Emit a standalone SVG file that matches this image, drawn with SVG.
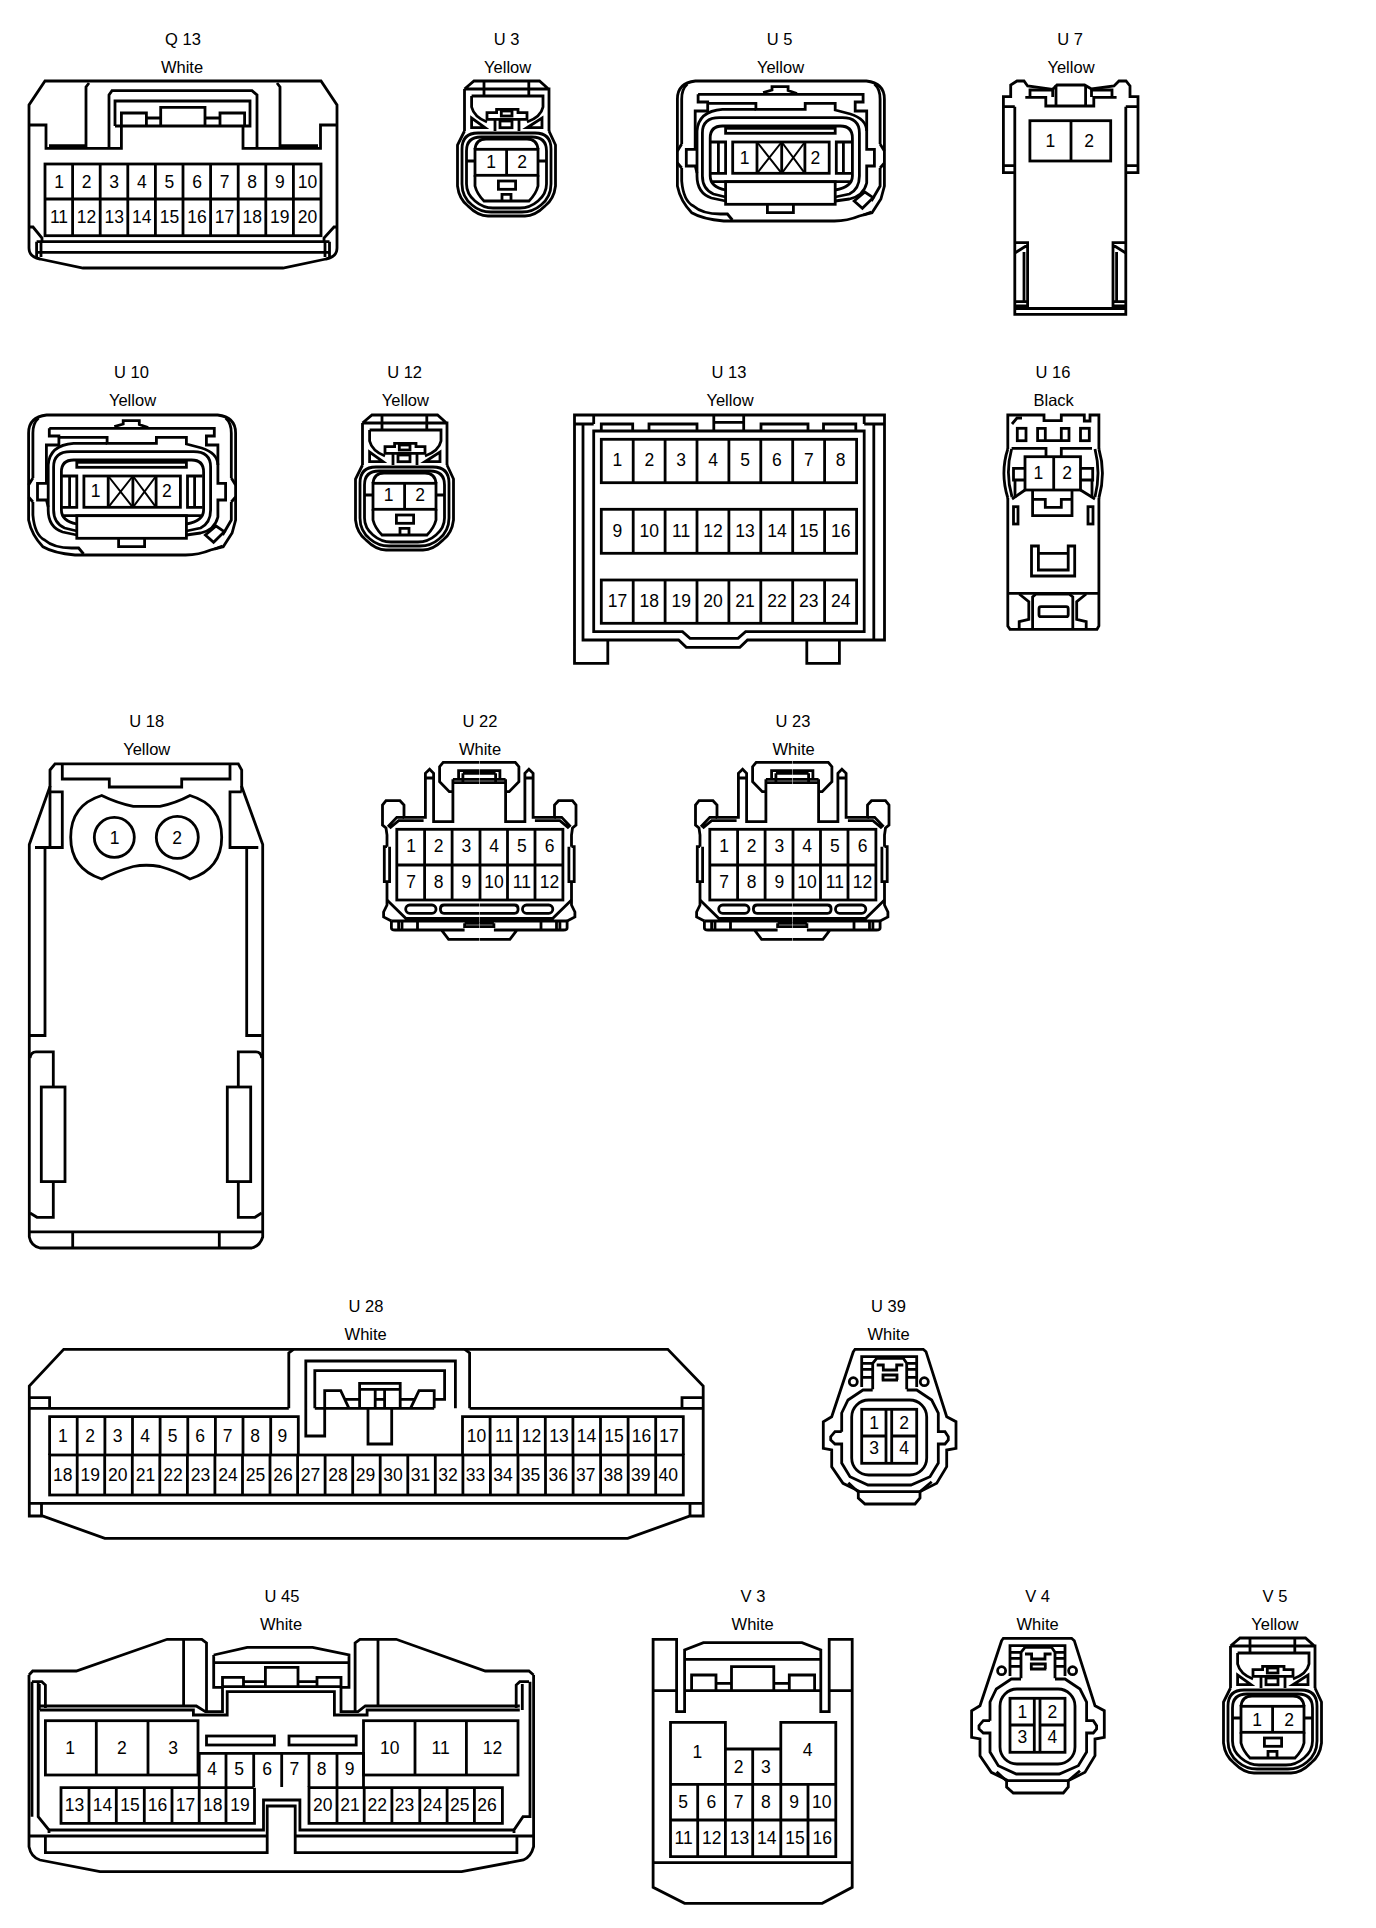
<svg xmlns="http://www.w3.org/2000/svg" xmlns:xlink="http://www.w3.org/1999/xlink" width="1376" height="1928" viewBox="0 0 1376 1928">
<style>
path,rect,circle{fill:none;stroke:#000;stroke-width:2.8;stroke-linejoin:miter}
.n{stroke-width:2}
text{font-family:"Liberation Sans",Arial,sans-serif;fill:#000;text-anchor:middle}
.t{font-size:16.5px}
.p{font-size:17.5px}
</style>
<defs>
<g id="plug2">
<path d="M8.5,8 L18,0 H83.5 L92.5,8 M8.5,8 H93 V50 M8.5,8 V50 M28,0 V15 M72.8,0 V15"/>
<path d="M15.6,15 H87 V26 Q85,36 71,41 M15.6,15 V26 Q18,36 31,41"/>
<path d="M15.6,37 V46.7 H29 Z M86,37 V46.7 H71 Z"/>
<path d="M31,38.3 V31.7 H40.6 V28.3 H62 V31.7 H71 V38.3 Z M39,38.3 V50 M63,38.3 V50"/>
<rect x="45.3" y="30" width="10.7" height="5"/><rect x="44" y="40" width="12" height="6.7"/>
<path d="M8.5,50 L1.5,64 V105 Q3,118 12,125 Q22,135 32,135 H69 Q79,135 89,125 Q98,118 99.5,105 V64 L93,50"/>
<path d="M6,68 Q6,52 22,52 H79 Q95,52 95,68 V103 Q95,116 85,124 Q77,131 66,131 H35 Q24,131 16,124 Q6,116 6,103 Z"/>
<path d="M10.5,70 Q10.5,56 25,56 H76 Q90.5,56 90.5,70 V103 Q90.5,113 82,120 Q74,127 64,127 H37 Q27,127 19,120 Q10.5,113 10.5,103 Z"/>
<path d="M19,68.3 Q20,58 30,58 H71 Q81,58 82,68.3 M19,94.3 V105 Q21,113 28,120 H73 Q80,113 82,105 V94.3"/>
<rect x="19" y="68.3" width="63" height="26"/><path d="M50.6,68.3 V94.3 M11,80 H19 M82,80 H90"/>
<rect x="42.4" y="100" width="17.2" height="8.3"/><path d="M46,120 V113.3 H55 V120"/>
</g>
<g id="plugX">
<path d="M18,0 H189 Q207,2 207,18 V105 L203.5,118 L194.6,131.7 L182,135 Q170,140 157,140 H46.4 Q25,138 14.3,131.7 Q3,120 0,105 V18 Q0,2 18,0 Z"/>
<path d="M10,3 Q4.3,8 4.3,18 V63 M0,70 L4.3,63 M0,82 L4.3,87 M4.3,87 V100 Q6,120 16,125 Q25,133 43,133 H50 L55,139"/>
<path d="M197,3 Q202.7,8 202.7,18 V63 M207,70 L202.7,63 M207,82 L202.7,87 M202.7,87 V105 L194,120 M186,134 L194,131"/>
<path d="M20.7,13.3 H185.7 V21 H177.8 V30 H189.3 V68.3 H197 V85 H189.3 V102 Q186,115 172,118 L157.8,120 M20.7,13.3 V21 H30.3 V30 H17.8 V68.3 H8.9 V85 H17.8 L19.6,92"/>
<path d="M85.7,11.7 L94.6,9 V5.7 H110.7 V9.5 L119.6,12.5"/>
<path d="M30.3,22.3 H78.5 V28.3 H127.8 V22.3 H157.8 V29 L173,33 Q189,38 189.3,50"/>
<path d="M78.5,28.3 H45 Q21,30 19.6,50 V95 Q19.6,112 34,117 L48.2,120"/>
<path d="M48.2,116 L36,113 Q25,108 25,95 V52 Q25,36.7 42,36.7 H165 Q182,36.7 182,52 V95 Q182,108 172,113 L157.8,116"/>
<path d="M48.2,109 Q32.8,106 32.8,95 V57 Q32.8,45 45,45 H163 Q175,45 175,57 V95 Q175,106 157.8,109 M33,100.7 H174"/>
<rect x="48.2" y="47.3" width="109.6" height="5"/>
<path d="M33.5,61 H48.2 V92.3 H33.5 M41,61 V92.3 M173.9,61 H158.9 V92.3 H173.9 M166,61 V92.3"/>
<rect x="55.3" y="61" width="96.5" height="31.3"/>
<path d="M79.6,61 V92.3 M104.3,61 V92.3 M127.5,61 V92.3"/>
<path class="n" d="M79.6,61 L104.3,92.3 M104.3,61 L79.6,92.3 M104.3,61 L127.5,92.3 M127.5,61 L104.3,92.3"/>
<rect x="48.2" y="100.7" width="109.6" height="22.6"/>
<path d="M90,123.3 V131.7 H116 V123.3"/>
<path d="M176.8,120 L187.5,111 L195.7,116.7 L185,127.3 Z"/>
</g>
<g id="half12">
<path d="M479,762.3 H443.2 L439.6,766.7 V781.7 L449.3,791.7 H452.9"/>
<path d="M452.9,779.3 V821.7 H433.6 V773.3 L429.6,769.3 L425.4,773.3 V817.3 H404 V805 L400,800.7 H386 L382.5,805 V825 L386,828 L387,835 V846.7"/>
<path d="M404,817.3 H396.8 L387.9,826.7 M423.6,820.7 H398.6 L389.6,828.3 M425.4,778 H433.6"/>
<path d="M387,846.7 H384.3 V881.7 H387 M389.6,846.7 V881.7 H387 V905 L383.6,912 V917 L391.4,921"/>
<path d="M387,900 L405.7,918.3 H479 M391.4,921 H479 M391.4,921 V928 Q391.4,930 395,930 H441.4 L448.6,939.3 H479 M441.4,930 H464.6 M398.6,921 V930 M402,921 V930 M417.5,921 V930"/>
<path d="M464.6,923.3 H479 M464.6,923.3 V926.7 H479"/>
<rect x="405.7" y="905" width="30.3" height="8.3" rx="4"/>
<path d="M479,905 H444 Q440.4,905 440.4,909 Q440.4,913.3 444,913.3 H479"/>
<path d="M452.9,779.3 H479 M452.9,782.7 H479 M458.6,779.3 V770.7 H479 M462.9,773.3 H479 M462.9,773.3 V781.7"/>
</g>
<g id="plug12">
<use href="#half12"/>
<use href="#half12" transform="matrix(-1 0 0 1 958.5 0)"/>
<rect x="396.8" y="829.3" width="166.1" height="70.7"/>
<path d="M396.8,865 H562.9 M424.6,829.3 V900 M452.1,829.3 V900 M480,829.3 V900 M507.5,829.3 V900 M535,829.3 V900"/>
</g>
<g id="plug4">
<path d="M853.3,1351.7 L855,1349.3 H923.3 L926,1351.7 L946.7,1416.7 L956,1421.7 V1448.3 L946.7,1450 V1466.7 L936.7,1483.3 L920,1491.7 H860 L843,1483.3 L831.7,1466.7 V1450 L823.3,1448.3 V1421.7 L831.7,1416.7 Z"/>
<path d="M841.7,1431.7 H835 L830.7,1436.7 V1440 L835,1444 H841.7 V1463 L850,1476.7 L868,1485 H911 L930,1476.7 L938.3,1463 V1444 H945 L948.3,1440 V1436.7 L945,1431.7 H938.3 V1413 L931.7,1400 L916.7,1390 H906.7 M841.7,1431.7 V1413 L848,1400 L863,1390 H872.7"/>
<path d="M848.3,1482.7 L858.3,1492 V1498 L865,1504 H915 L920,1498 V1491.7 L931.7,1481.7"/>
<rect x="851.7" y="1400" width="75" height="75" rx="17"/>
<rect x="861.7" y="1409.3" width="55" height="54"/>
<path d="M861.7,1436 H886 M891.7,1436 H916.7 M886,1409.3 V1463.3 M891.7,1409.3 V1463.3"/>
<path d="M861.7,1387 V1356.7 H916.7 V1387 M861.7,1363.3 H872 M906.7,1363.3 H916.7 M861.7,1369.3 H872.7 M906.7,1369.3 H916.7 M861.7,1377.3 H872.7 M906.7,1377.3 H916.7"/>
<path d="M872.7,1389.3 V1363.3 L876.7,1358.3 H903.3 L906.7,1363.3 V1389.3"/>
<path d="M876.7,1365 H883.3 V1370 H896.7 V1365 H903.3 M881.7,1380 H898 M883,1380 V1375 H897 V1380"/>
<circle cx="853.3" cy="1381.7" r="4"/><circle cx="924.3" cy="1381.7" r="4"/>
</g>
</defs>

<g id="Q13">
<path d="M45,81 H321 L337,105 V248 Q337,257 326,259 L283,268 H83 L40,259 Q29,257 29,248 V105 Z"/>
<path d="M29,125 H46 V148.3 H121.4 V126 M337,125 H320.5 V148.3 H243 V126 M109,148.3 V95 L112,90.7 H252 L257,95 V148.3"/>
<path d="M86,148.3 V87 L89,83 M280,148.3 V87 L277,83 M49,145.7 H86 M280,145.7 H318"/>
<path d="M115,126 V101 H250 V126 H115 M121.4,126 V113 H146.4 V126 M160.7,126 V107.3 H205 V126 M220,126 V113 H244.6 V126 M146.4,118 H160.7 M205,118 H220"/>
<rect x="45" y="164" width="276" height="71.7"/>
<path d="M45,199 H321 M72.6,164 V235.7 M100.2,164 V235.7 M127.8,164 V235.7 M155.4,164 V235.7 M183,164 V235.7 M210.6,164 V235.7 M238.2,164 V235.7 M265.8,164 V235.7 M293.4,164 V235.7"/>
<path d="M36.6,241.7 H329.5 M36.6,252.3 H329.5 M36.6,241.7 V257 M41,241.7 V257 M325,241.7 V257 M329.5,241.7 V257"/>
<path d="M29,227 H33 L42,238 V241.7 M337,227 H334 L324,238 V241.7"/>
<text class="t" x="183" y="45">Q 13</text><text class="t" x="182" y="72.5">White</text>
<g class="p"><text x="59" y="188.3">1</text><text x="86.6" y="188.3">2</text><text x="114.2" y="188.3">3</text><text x="141.8" y="188.3">4</text><text x="169.4" y="188.3">5</text><text x="197" y="188.3">6</text><text x="224.6" y="188.3">7</text><text x="252.2" y="188.3">8</text><text x="279.8" y="188.3">9</text><text x="307.4" y="188.3">10</text>
<text x="59" y="222.7">11</text><text x="86.6" y="222.7">12</text><text x="114.2" y="222.7">13</text><text x="141.8" y="222.7">14</text><text x="169.4" y="222.7">15</text><text x="197" y="222.7">16</text><text x="224.6" y="222.7">17</text><text x="252.2" y="222.7">18</text><text x="279.8" y="222.7">19</text><text x="307.4" y="222.7">20</text></g>
</g>

<g id="U3">
<use href="#plug2" transform="translate(456,81)"/>
<text class="t" x="506.7" y="45">U 3</text><text class="t" x="507.6" y="72.5">Yellow</text>
<g class="p"><text x="491" y="167.5">1</text><text x="522" y="167.5">2</text></g>
</g>

<g id="U5">
<use href="#plugX" transform="translate(677.4,81)"/>
<text class="t" x="779.6" y="45">U 5</text><text class="t" x="780.5" y="72.5">Yellow</text>
<g class="p"><text x="744.5" y="164">1</text><text x="815.4" y="164">2</text></g>
</g>

<g id="U7">
<path d="M1014.8,106.7 V314.3 H1125.8 V106.7 M1014.8,172.7 H1003.4 V96.7 H1010.7 V85 L1017,81 H1024 L1027.6,86 L1052.7,89.3 L1057,85 H1084.6 L1091.5,89 L1114,86 L1119,81 H1126 L1130,86 V96.7 H1138 V172.7 H1125.8"/>
<path d="M1025.3,97.3 H1045.8 V106 H1093.8 V97.3 H1116.6 M1056,85 V106 M1085.6,85 V106 M1030,97 V90 H1052.7 V97 M1091.5,97 V90 H1112 V97"/>
<path d="M1003.4,106.7 H1014.8 M1003.4,165.7 H1014.8 M1125.8,106.7 H1138 M1125.8,165.7 H1138"/>
<rect x="1029.9" y="120.7" width="80.8" height="40.3"/><path d="M1071,120.7 V161"/>
<path d="M1014.8,242.7 H1027.6 V306 H1014.8 M1014.8,253 L1027.6,245 M1024,252 V301.7 M1014.8,301.7 H1027.6 M1125.8,242.7 H1113 V306 H1125.8 M1125.8,253 L1113,245 M1116.6,252 V301.7 M1125.8,301.7 H1113 M1014.8,308.5 H1125.8"/>
<text class="t" x="1070" y="45">U 7</text><text class="t" x="1071" y="72.5">Yellow</text>
<g class="p"><text x="1050.4" y="146.7">1</text><text x="1089" y="146.7">2</text></g>
</g>

<g id="U10">
<use href="#plugX" transform="translate(28.6,415)"/>
<text class="t" x="131.4" y="378.3">U 10</text><text class="t" x="132.5" y="406">Yellow</text>
<g class="p"><text x="95.7" y="496.7">1</text><text x="166.8" y="496.7">2</text></g>
</g>

<g id="U12">
<use href="#plug2" transform="translate(354,415)"/>
<text class="t" x="404.6" y="378.3">U 12</text><text class="t" x="405.4" y="406">Yellow</text>
<g class="p"><text x="388.6" y="501">1</text><text x="420" y="501">2</text></g>
</g>

<g id="U13">
<path d="M574.5,415 H884.5 V640 H747.5 L739.9,647.3 H686.3 L678.6,640 H607.8 V663.3 H574.5 Z M806.8,640 V663.3 H839.4 V640 M607.8,640 H583 V424 H574.5 M593.7,424 V415 M583,424 H593.7 M864.2,424 V415 M864.2,424 H884.5 M873.8,424 V640"/>
<path d="M601.3,431 V424 H632.7 V431 M649,431 V424 H697 V431 M713.8,415 V431 M743.7,415 V431 M713.8,422.3 H743.7 M761,431 V424 H808 V431 M823.5,431 V424 H855.8 V431"/>
<path d="M593.7,431 H864.2 V631.7 H745.6 L738,638.3 H690 L682.5,631.7 H593.7 Z"/>
<rect x="601.3" y="439.3" width="255.3" height="43.4"/><rect x="601.3" y="509.3" width="255.3" height="44"/><rect x="601.3" y="580" width="255.3" height="43.3"/>
<path d="M633.2,439.3 V482.7 M665.1,439.3 V482.7 M697,439.3 V482.7 M728.9,439.3 V482.7 M760.8,439.3 V482.7 M792.7,439.3 V482.7 M824.6,439.3 V482.7 M633.2,509.3 V553.3 M665.1,509.3 V553.3 M697,509.3 V553.3 M728.9,509.3 V553.3 M760.8,509.3 V553.3 M792.7,509.3 V553.3 M824.6,509.3 V553.3 M633.2,580 V623.3 M665.1,580 V623.3 M697,580 V623.3 M728.9,580 V623.3 M760.8,580 V623.3 M792.7,580 V623.3 M824.6,580 V623.3"/>
<text class="t" x="729" y="378.3">U 13</text><text class="t" x="730" y="406">Yellow</text>
<g class="p"><text x="617.4" y="466">1</text><text x="649.3" y="466">2</text><text x="681.2" y="466">3</text><text x="713.1" y="466">4</text><text x="745" y="466">5</text><text x="776.9" y="466">6</text><text x="808.8" y="466">7</text><text x="840.7" y="466">8</text>
<text x="617.4" y="536.7">9</text><text x="649.3" y="536.7">10</text><text x="681.2" y="536.7">11</text><text x="713.1" y="536.7">12</text><text x="745" y="536.7">13</text><text x="776.9" y="536.7">14</text><text x="808.8" y="536.7">15</text><text x="840.7" y="536.7">16</text>
<text x="617.4" y="607.3">17</text><text x="649.3" y="607.3">18</text><text x="681.2" y="607.3">19</text><text x="713.1" y="607.3">20</text><text x="745" y="607.3">21</text><text x="776.9" y="607.3">22</text><text x="808.8" y="607.3">23</text><text x="840.7" y="607.3">24</text></g>
</g>

<g id="U16">
<path d="M1007.8,449 V415 H1044 V420.7 H1061.3 V415 H1084.3 V421 H1090 V415 H1098.9 V449 M1007.8,498 V626 L1010,629.3 H1097 L1098.9,626 V498"/>
<path d="M1012,424 L1017,418 H1022 "/>
<rect x="1017.3" y="428.3" width="8.7" height="12.4"/><rect x="1080.5" y="428.3" width="8.8" height="12.4"/>
<path d="M1037.6,428.3 H1045.3 V440.7 H1037.6 Z M1061.3,428.3 H1069 V440.7 H1061.3 Z M1045.3,440.7 H1061.3"/>
<path d="M1011.6,448.3 H1046 V456.7 M1061.3,456.7 V448.3 H1092"/>
<rect x="1025" y="456.7" width="55.5" height="33.3"/><path d="M1053.7,456.7 V490"/>
<path d="M1025,468.3 H1013.5 V480 H1025 M1080.5,468.3 H1092.7 V480 H1080.5"/>
<path d="M1007.8,449 Q1000,473 1007.8,498 M1011.6,449 Q1005,473 1012,497 M1015,480 V498 M1098.9,449 Q1106,473 1098.9,498 M1095,449 Q1101,473 1095,497 M1092,480 V498"/>
<path d="M1012,499 L1025,490 M1095,499 L1080.5,490"/>
<path d="M1032.6,490 V515.7 H1072 V490 M1032.6,499.3 H1045.3 V507.3 H1061.3 V499.3 H1072"/>
<rect x="1013.5" y="506.7" width="4.5" height="17.3"/><rect x="1088" y="506.7" width="5" height="17.3"/>
<path d="M1031.5,546 V576 H1074.7 V546 H1068.2 V570 H1038.4 V546 Z M1038.4,553.3 H1068.2"/>
<path d="M1007.8,593.3 H1098.9"/>
<path d="M1032.6,629 V597 L1036,594 H1069 L1072.8,597 V629"/>
<rect x="1039" y="606.7" width="29.2" height="10" rx="2"/>
<path d="M1019.2,594 L1028.8,601.7 V619.3 L1019.2,621.7 V629 M1086.2,594 L1076.7,601.7 V619.3 L1086.2,621.7 V629"/>
<text class="t" x="1053" y="378.3">U 16</text><text class="t" x="1053.7" y="406">Black</text>
<g class="p"><text x="1038.4" y="479.3">1</text><text x="1067" y="479.3">2</text></g>
</g>

<g id="U18">
<path d="M50,770 L55,763.8 H238.3 L241.7,770 V786.4 L262.7,844.5 V1237 Q260,1246 251.7,1248 H40 Q31,1246 29.3,1237 V844.5 L50,786.4 Z"/>
<path d="M62.3,763.8 V779 H109.3 V787 H181.7 V779 H230 V763.8"/>
<path d="M50,791.8 H62.3 V847.5 H35 M241.7,791.8 H230 V847.5 H258.3 M50,786 V847.5 M241.7,786 V791.8"/>
<path d="M45,847.5 V1035.5 H30 M246.7,847.5 V1035.5 H261.7"/>
<path d="M30,1058 Q31,1051.8 36,1051.8 H53.3 V1087 M261.7,1058 Q261,1051.8 256,1051.8 H238.3 V1087"/>
<rect x="41.3" y="1087" width="23.7" height="94.6"/><rect x="227.3" y="1087" width="23.4" height="94.6"/>
<path d="M53.3,1181.6 V1217.3 H37 L30,1213 M238.3,1181.6 V1217.3 H255 L261.7,1213"/>
<path d="M29.3,1231.8 H262.7 M72.7,1231.8 V1248 M219.3,1231.8 V1248"/>
<path d="M101.7,795.5 Q117,803 133.3,806.4 H160 Q176,803 190,795.5 Q221.7,805 221.7,837.3 Q221.7,869 190,879 Q176,871 160,866.5 Q146,864 133.3,866.5 Q117,871 101.7,879 Q70.7,869 70.7,837.3 Q70.7,805 101.7,795.5 Z"/>
<circle cx="114.3" cy="837.3" r="20"/><circle cx="177.3" cy="837.3" r="21"/>
<text class="t" x="146.7" y="726.7">U 18</text><text class="t" x="146.7" y="754.7">Yellow</text>
<g class="p"><text x="114.5" y="843.5">1</text><text x="177" y="843.5">2</text></g>
</g>

<g id="U22">
<use href="#plug12"/>
<text class="t" x="480" y="726.7">U 22</text><text class="t" x="480" y="754.7">White</text>
<g class="p"><text x="411" y="851.7">1</text><text x="438.7" y="851.7">2</text><text x="466.4" y="851.7">3</text><text x="494.1" y="851.7">4</text><text x="521.8" y="851.7">5</text><text x="549.5" y="851.7">6</text>
<text x="411" y="887.7">7</text><text x="438.7" y="887.7">8</text><text x="466.4" y="887.7">9</text><text x="494.1" y="887.7">10</text><text x="521.8" y="887.7">11</text><text x="549.5" y="887.7">12</text></g>
</g>

<g id="U23">
<use href="#plug12" transform="translate(313,0)"/>
<text class="t" x="793" y="726.7">U 23</text><text class="t" x="793.6" y="754.7">White</text>
<g class="p"><text x="724" y="851.7">1</text><text x="751.7" y="851.7">2</text><text x="779.4" y="851.7">3</text><text x="807.1" y="851.7">4</text><text x="834.8" y="851.7">5</text><text x="862.5" y="851.7">6</text>
<text x="724" y="887.7">7</text><text x="751.7" y="887.7">8</text><text x="779.4" y="887.7">9</text><text x="807.1" y="887.7">10</text><text x="834.8" y="887.7">11</text><text x="862.5" y="887.7">12</text></g>
</g>

<g id="U28">
<path d="M63.7,1349.3 H667.8 L703.2,1386 V1516 H690 L627.7,1538.3 H104.8 L42.5,1516 H29.3 V1386 Z"/>
<path d="M29.3,1408.3 H288.8 M469.6,1408.3 H703.2 M29.3,1503.3 H703.2 M41.5,1503.3 V1516 M690,1503.3 V1516"/>
<path d="M29.3,1397.7 H49.6 V1408.3 M682,1408.3 V1397.7 H703.2"/>
<path d="M288.8,1408.3 V1353 L293.5,1349.3 M464.8,1349.3 L469.6,1353 V1408.3"/>
<path d="M455.4,1408.3 V1361 H305.8 V1436 H324.7 V1390.7 H340.7 L349,1408.3 M314.8,1408.3 V1370.7 H444.6 V1399.3 H434.2 M434.2,1408.3 V1390.7 H419 L410.5,1408.3"/>
<path d="M314.8,1408.3 H434.2 M359.6,1408.3 V1383.3 H400.2 V1408.3 M359.6,1389.3 H400.2 M375.2,1389.3 V1408.3 M384.6,1389.3 V1408.3 M345,1399.3 H359.6 M375.2,1399.3 H384.6 M400.2,1399.3 H414.5"/>
<path d="M368,1408.3 V1444 H391.7 V1408.3"/>
<path d="M49.6,1455 V1416.7 H298.3 V1455 M462.5,1455 V1416.7 H683.3 V1455"/>
<rect x="49.6" y="1455" width="633.7" height="40"/>
<path d="M77.2,1416.7 V1455 M104.9,1416.7 V1455 M132.5,1416.7 V1455 M160.1,1416.7 V1455 M187.8,1416.7 V1455 M215.4,1416.7 V1455 M243,1416.7 V1455 M270.7,1416.7 V1455 M490.1,1416.7 V1455 M517.7,1416.7 V1455 M545.3,1416.7 V1455 M572.9,1416.7 V1455 M600.5,1416.7 V1455 M628.1,1416.7 V1455 M655.7,1416.7 V1455"/>
<path d="M77.2,1455 V1495 M104.7,1455 V1495 M132.3,1455 V1495 M159.8,1455 V1495 M187.4,1455 V1495 M214.9,1455 V1495 M242.5,1455 V1495 M270,1455 V1495 M297.6,1455 V1495 M325.1,1455 V1495 M352.7,1455 V1495 M380.2,1455 V1495 M407.8,1455 V1495 M435.3,1455 V1495 M462.9,1455 V1495 M490.4,1455 V1495 M518,1455 V1495 M545.5,1455 V1495 M573.1,1455 V1495 M600.6,1455 V1495 M628.2,1455 V1495 M655.7,1455 V1495"/>
<text class="t" x="366" y="1311.9">U 28</text><text class="t" x="365.7" y="1339.9">White</text>
<g class="p"><text x="62.8" y="1441.7">1</text><text x="90.2" y="1441.7">2</text><text x="117.7" y="1441.7">3</text><text x="145.1" y="1441.7">4</text><text x="172.6" y="1441.7">5</text><text x="200" y="1441.7">6</text><text x="227.5" y="1441.7">7</text><text x="255" y="1441.7">8</text><text x="282.4" y="1441.7">9</text>
<text x="476.6" y="1441.7">10</text><text x="504.1" y="1441.7">11</text><text x="531.6" y="1441.7">12</text><text x="559.1" y="1441.7">13</text><text x="586.6" y="1441.7">14</text><text x="614.1" y="1441.7">15</text><text x="641.6" y="1441.7">16</text><text x="669.1" y="1441.7">17</text>
<text x="62.8" y="1481">18</text><text x="90.3" y="1481">19</text><text x="117.8" y="1481">20</text><text x="145.4" y="1481">21</text><text x="172.9" y="1481">22</text><text x="200.4" y="1481">23</text><text x="227.9" y="1481">24</text><text x="255.4" y="1481">25</text><text x="283" y="1481">26</text><text x="310.5" y="1481">27</text><text x="338" y="1481">28</text><text x="365.5" y="1481">29</text><text x="393" y="1481">30</text><text x="420.6" y="1481">31</text><text x="448.1" y="1481">32</text><text x="475.6" y="1481">33</text><text x="503.1" y="1481">34</text><text x="530.6" y="1481">35</text><text x="558.2" y="1481">36</text><text x="585.7" y="1481">37</text><text x="613.2" y="1481">38</text><text x="640.7" y="1481">39</text><text x="668.2" y="1481">40</text></g>
</g>

<g id="U39">
<use href="#plug4"/>
<text class="t" x="888.5" y="1311.9">U 39</text><text class="t" x="888.5" y="1339.9">White</text>
<g class="p"><text x="874" y="1429.3">1</text><text x="904" y="1429.3">2</text><text x="874" y="1454.3">3</text><text x="904" y="1454.3">4</text></g>
</g>

<g id="U45">
<path d="M29,1675 L32.7,1671 H76.3 L167.2,1639.3 H201.8 L206.5,1643 V1711.7 M533.6,1675 L528.9,1671 H485.3 L396.2,1639.3 H359.9 L355.1,1643 V1711.7 M29,1675 V1846.7 Q31,1857 40,1860 L100,1871.7 H461.6 L523.4,1860 Q531,1857 533.6,1846.7 V1675 M183.6,1639.3 V1706 M378,1639.3 V1706"/>
<path d="M213.7,1655 L247.2,1647.3 H312.6 L349,1655 V1687.3 H341 M213.7,1655 V1687.3 H222.5 M213.7,1662.7 H349"/>
<path d="M222.5,1686.7 V1677.3 H243.5 V1686.7 M265.4,1686.7 V1667.3 H298 V1686.7 M317,1686.7 V1677.3 H341 V1686.7 M243.5,1681.7 H265.4 M298,1681.7 H317 M222.5,1686.7 H341"/>
<path d="M40,1706 H196.3 L205.4,1711.7 H222.5 V1687 M519.8,1706 H365.3 L358,1711.7 H341 V1687"/>
<path d="M40,1710 H193.4 V1715 H227.2 V1691.7 H334.4 V1715 H367.1 V1710 H519.8"/>
<path d="M32,1681.7 H41.8 L45.4,1685 V1708 M39.3,1684 V1710 M32,1681.7 V1816.7 M38.2,1683 V1816.7 L49,1830 V1833 M529,1681.7 H519.8 L516.2,1685 V1708 M522.3,1684 V1710 M530,1681.7 V1816.7 H523 L514,1830 V1833"/>
<path d="M49,1830 H263.5 V1800 H299.9 V1830 H514 M29,1836 H267.2 V1806 H295.2 V1836 H533.6 M45.4,1836 V1852.7 H267.2 V1836 M295.2,1836 V1852.7 H516.9 V1836"/>
<rect x="45.4" y="1720.7" width="152.6" height="54.3"/><path d="M96.3,1720.7 V1775 M148,1720.7 V1775"/>
<rect x="363.5" y="1720.7" width="154.5" height="54.3"/><path d="M415,1720.7 V1775 M466.4,1720.7 V1775"/>
<path d="M199.2,1787 V1753.3 H363.5 V1787 M226,1753.3 V1787 M253.7,1753.3 V1787 M281.7,1753.3 V1787 M309,1753.3 V1787 M337,1753.3 V1787"/>
<path d="M253.7,1787.7 H61 V1823.3 H254.5 V1787.7 M89,1787.7 V1823.3 M116.3,1787.7 V1823.3 M144.3,1787.7 V1823.3 M172,1787.7 V1823.3 M199.2,1787.7 V1823.3 M226,1787.7 V1823.3"/>
<path d="M309,1823.3 V1787.7 H502.4 V1823.3 Z M337,1787.7 V1823.3 M364.2,1787.7 V1823.3 M391.9,1787.7 V1823.3 M419.8,1787.7 V1823.3 M447.1,1787.7 V1823.3 M474.4,1787.7 V1823.3"/>
<rect x="206.5" y="1736" width="67.9" height="9"/><rect x="289" y="1736" width="67.2" height="9"/>
<text class="t" x="282" y="1601.9">U 45</text><text class="t" x="281" y="1629.9">White</text>
<g class="p"><text x="70" y="1754">1</text><text x="121.8" y="1754">2</text><text x="173" y="1754">3</text><text x="389.7" y="1754">10</text><text x="440.6" y="1754">11</text><text x="492.6" y="1754">12</text>
<text x="212" y="1775">4</text><text x="239" y="1775">5</text><text x="267" y="1775">6</text><text x="294.4" y="1775">7</text><text x="321.7" y="1775">8</text><text x="349.7" y="1775">9</text>
<text x="74.5" y="1810.7">13</text><text x="102.5" y="1810.7">14</text><text x="130" y="1810.7">15</text><text x="157.4" y="1810.7">16</text><text x="185.4" y="1810.7">17</text><text x="212.7" y="1810.7">18</text><text x="240" y="1810.7">19</text><text x="322.8" y="1810.7">20</text><text x="350" y="1810.7">21</text><text x="377.3" y="1810.7">22</text><text x="404.6" y="1810.7">23</text><text x="432.6" y="1810.7">24</text><text x="459.8" y="1810.7">25</text><text x="487" y="1810.7">26</text></g>
</g>

<g id="V3">
<path d="M653.1,1639.3 H676.6 V1711.7 H684.6 V1650 L703.4,1642.7 H802 L820.8,1650 V1711.7 H829.2 V1639.3 H852.2 V1887.3 L822.2,1903.3 H684.6 L653.1,1887.3 Z"/>
<path d="M653.1,1690.7 H676.6 M684.6,1690.7 H820.8 M829.2,1690.7 H852.2 M684.6,1659.3 H820.8 M653.1,1862.7 H852.2"/>
<path d="M691.6,1690.7 V1675 H716 V1690.7 M731.5,1690.7 V1666.7 H773.8 V1690.7 M789.3,1690.7 V1675 H814.6 V1690.7 M716,1683.3 H731.5 M773.8,1683.3 H789.3"/>
<path d="M670.5,1722.3 H725.4 V1749 H780.8 V1722.3 H835.8 V1856.7 H670.5 Z M670.5,1784.3 H835.8 M670.5,1820 H835.8 M725.4,1749 V1856.7 M780.8,1749 V1856.7 M752.7,1749 V1856.7 M697.7,1784.3 V1856.7 M808,1784.3 V1856.7"/>
<text class="t" x="753" y="1601.9">V 3</text><text class="t" x="752.7" y="1629.9">White</text>
<g class="p"><text x="697.3" y="1758">1</text><text x="738.6" y="1772.7">2</text><text x="765.8" y="1772.7">3</text><text x="807.6" y="1756">4</text>
<text x="683.2" y="1808.3">5</text><text x="711.4" y="1808.3">6</text><text x="738.6" y="1808.3">7</text><text x="765.8" y="1808.3">8</text><text x="794" y="1808.3">9</text><text x="821.7" y="1808.3">10</text>
<text x="683.6" y="1844">11</text><text x="711.8" y="1844">12</text><text x="739.5" y="1844">13</text><text x="766.8" y="1844">14</text><text x="795" y="1844">15</text><text x="822.2" y="1844">16</text></g>
</g>

<g id="V4">
<use href="#plug4" transform="translate(148.3,289)"/>
<text class="t" x="1037.6" y="1601.9">V 4</text><text class="t" x="1037.6" y="1629.9">White</text>
<g class="p"><text x="1022.3" y="1718.3">1</text><text x="1052.3" y="1718.3">2</text><text x="1022.3" y="1743.3">3</text><text x="1052.3" y="1743.3">4</text></g>
</g>

<g id="V5">
<use href="#plug2" transform="translate(1222,1638)"/>
<text class="t" x="1275" y="1601.9">V 5</text><text class="t" x="1274.8" y="1629.9">Yellow</text>
<g class="p"><text x="1257" y="1725.5">1</text><text x="1289" y="1725.5">2</text></g>
</g>

<g id="connectors"></g>
</svg>
